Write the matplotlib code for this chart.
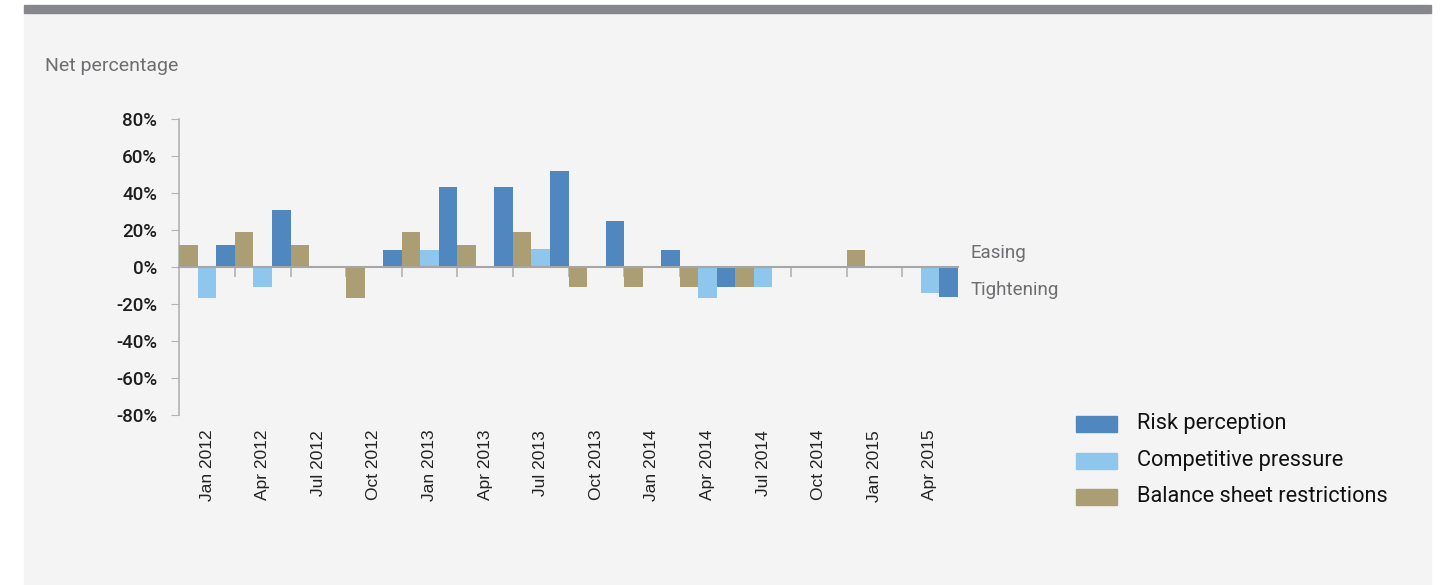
import numpy as np
import matplotlib.pyplot as plt
from matplotlib.patches import Rectangle

quarters = ["Jan 2012", "Apr 2012", "Jul 2012", "Oct 2012", "Jan 2013", "Apr 2013", "Jul 2013",
            "Oct 2013", "Jan 2014", "Apr 2014", "Jul 2014", "Oct 2014", "Jan 2015", "Apr 2015"]
risk_perception = [12, 31, 0, 9, 43, 43, 52, 25, 9, -11, 0, 0, 0, -16]
competitive_pressure = [-17, -11, 0, 0, 9, 0, 10, 0, 0, -17, -11, 0, 0, -14]
balance_sheet = [12, 19, 12, -17, 19, 12, 19, -11, -11, -11, -11, 0, 9, 0]

series_names = ["Risk perception", "Competitive pressure", "Balance sheet restrictions"]
colors = ["#5087be", "#8ec6ed", "#ab9d74"]

narrow = ["Liberation Sans Narrow", "Roboto", "DejaVu Sans"]
plain = ["Liberation Sans", "DejaVu Sans"]

W, H = 1449, 585
fig = plt.figure(figsize=(W / 100, H / 100), dpi=100, facecolor="white")

# background panel and top bar
fig.add_artist(Rectangle((24 / W, 0), (1431 - 24) / W, 1 - 12 / H, transform=fig.transFigure,
                         color="#f4f4f4", zorder=-10))
fig.add_artist(Rectangle((24 / W, 1 - 12.5 / H), (1431 - 24) / W, 7.5 / H, transform=fig.transFigure,
                         color="#85878d", zorder=-10))

ax = fig.add_axes([179.3 / W, 1 - 415 / H, (957.7 - 179.3) / W, (415 - 119) / H])
ax.patch.set_visible(False)

x = np.arange(len(quarters))
w = 1 / 3
# drawn order in the chart: balance sheet, competitive, risk
ax.bar(x - w, balance_sheet, w, color=colors[2], zorder=3)
ax.bar(x, competitive_pressure, w, color=colors[1], zorder=3)
ax.bar(x + w, risk_perception, w, color=colors[0], zorder=3)

ax.set_xlim(-0.5, len(quarters) - 0.5)
ax.set_ylim(-80, 80)

yt = np.arange(-80, 81, 20)
ax.set_yticks(yt)
ax.set_yticklabels([f"{v}%" for v in yt], family=narrow, fontsize=13.5, color="#1e1e1e", weight="medium")
ax.tick_params(axis="y", length=6, color="#b3b3b3", pad=10)

ax.spines["top"].set_visible(False)
ax.spines["right"].set_visible(False)
ax.spines["left"].set_color("#b3b3b3")
ax.spines["left"].set_linewidth(1.2)
ax.spines["bottom"].set_position(("data", 0))
ax.spines["bottom"].set_color("#a6a6a6")
ax.spines["bottom"].set_linewidth(1.5)
ax.spines["bottom"].set_zorder(4)

ax.set_xticks(x[:-1] + 0.5)
ax.set_xticklabels([])
ax.tick_params(axis="x", length=7, color="#b3b3b3", width=1.2)

for xi, lab in zip(x, quarters):
    ax.text(xi, -0.05, lab, transform=ax.get_xaxis_transform(), rotation=90, ha="center", va="top",
            family=plain, fontsize=12.5, color="#222222")

fig.text(45 / W, 1 - 66 / H, "Net percentage", family=narrow, fontsize=14, color="#6d6e71", va="center")
fig.text(971 / W, 1 - 253 / H, "Easing", family=narrow, fontsize=13.5, color="#6d6e71", va="center")
fig.text(971 / W, 1 - 290 / H, "Tightening", family=narrow, fontsize=13.5, color="#6d6e71", va="center")

# legend
for i, (name, c) in enumerate(zip(series_names, colors)):
    yc = 424 + i * 36.5
    fig.add_artist(Rectangle((1076 / W, 1 - (yc + 8) / H), 41 / W, 16 / H, transform=fig.transFigure,
                             color=c))
    fig.text(1137 / W, 1 - yc / H, name, family=narrow, fontsize=15.7, color="#111111", va="center")

fig.savefig("out.png", dpi=100, facecolor="white")
